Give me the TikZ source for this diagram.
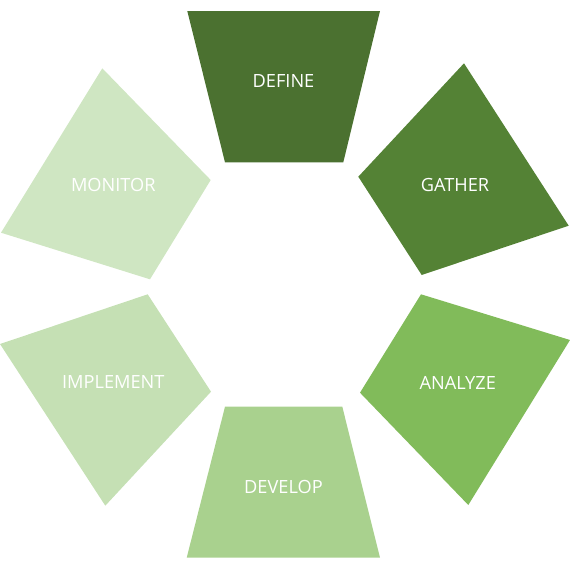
\documentclass[tikz,border=0pt]{standalone}
\usepackage{fontspec}
\setmainfont{Open Sans}
\definecolor{cDefine}{HTML}{4B7130}
\definecolor{cGather}{HTML}{548235}
\definecolor{cAnalyze}{HTML}{81BB5A}
\definecolor{cDevelop}{HTML}{A9D18E}
\definecolor{cImplement}{HTML}{C5E0B4}
\definecolor{cMonitor}{HTML}{CFE6C2}
\begin{document}
\begin{tikzpicture}[x=1pt,y=-1pt,
  lbl/.style={text=white,font=\fontsize{18.2}{22}\selectfont,inner sep=0pt}]
\useasboundingbox (0,0) rectangle (570,570);
% DEFINE
\fill[cDefine] (187.3,11) -- (380,11) -- (343.3,162.3) -- (225,162.3) -- cycle;
\node[lbl] (define) at (283.5,81.5) {DEFINE};
% GATHER
\fill[cGather] (464,63.3) -- (568.7,225.7) -- (421.7,275) -- (358.3,176.7) -- cycle;
\node[lbl] (gather) at (455,185) {GATHER};
% ANALYZE
\fill[cAnalyze] (421,294.3) -- (570,340) -- (468.3,505) -- (360,392.7) -- cycle;
\node[lbl] (analyze) at (457.7,383.3) {ANALYZE};
% DEVELOP
\fill[cDevelop] (225,406.7) -- (342.3,406.7) -- (380,557.7) -- (186.7,557.7) -- cycle;
\node[lbl] (develop) at (283.5,487.3) {DEVELOP};
% IMPLEMENT
\fill[cImplement] (147.7,294.3) -- (211,391.7) -- (105.3,505.7) -- (0,344) -- cycle;
\node[lbl] (implement) at (113.3,382.3) {IMPLEMENT};
% MONITOR
\fill[cMonitor] (102.3,68.3) -- (210.7,180) -- (150,279.3) -- (1,232.7) -- cycle;
\node[lbl] (monitor) at (113.3,185) {MONITOR};
\end{tikzpicture}
\end{document}
